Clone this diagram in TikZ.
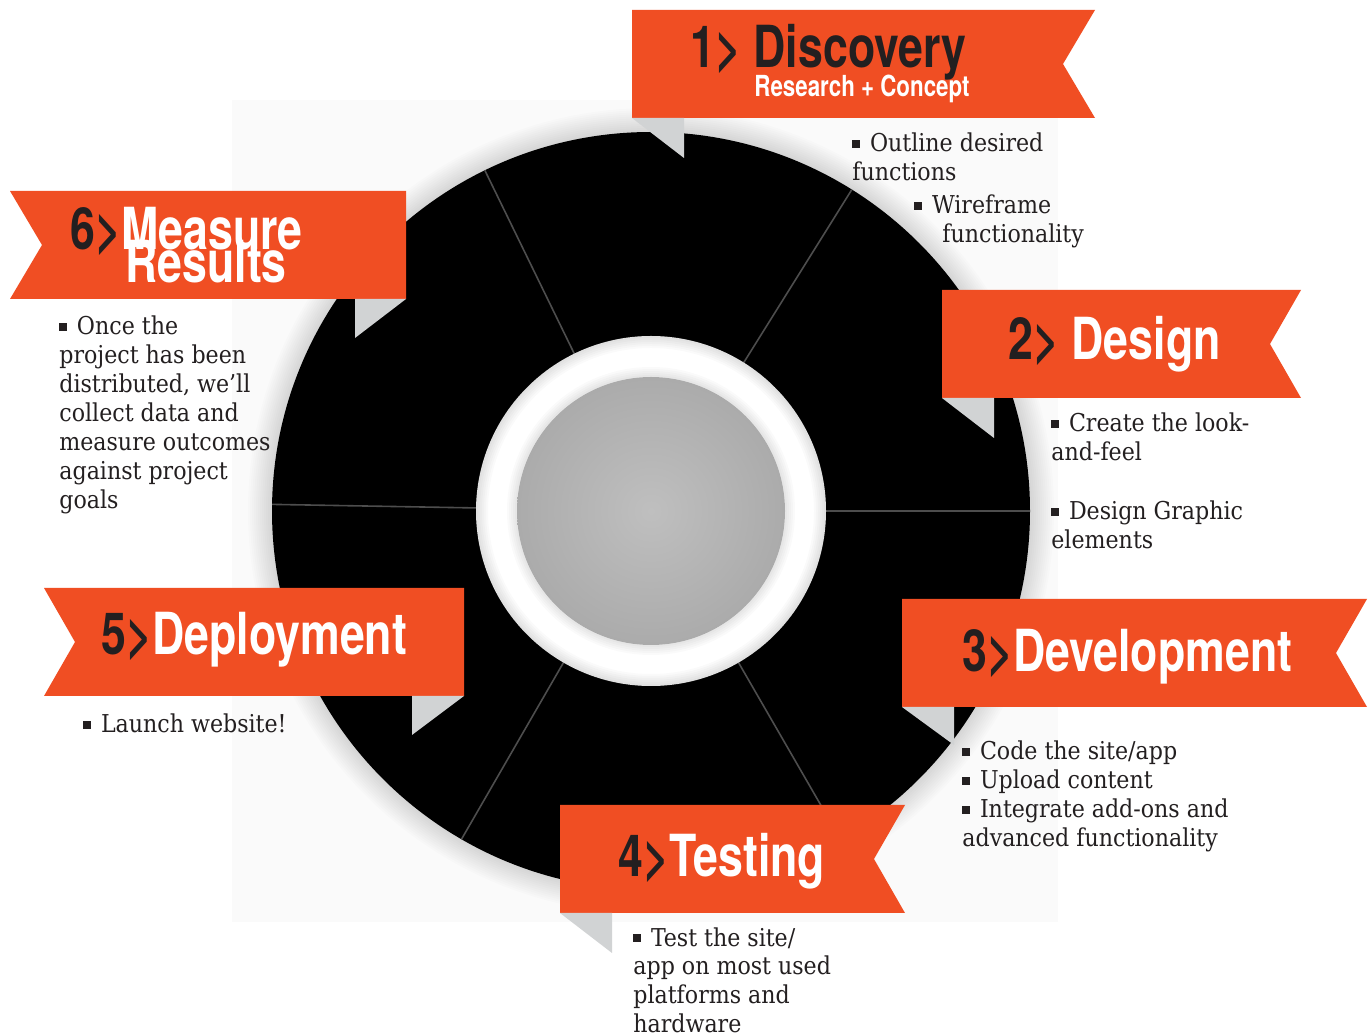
\documentclass[tikz,border=0pt]{standalone}
\usepackage{fontspec}
\setmainfont{DejaVu Serif Condensed}
\newfontfamily\bannerfont[FakeStretch=0.77]{TeX Gyre Heros}
\usetikzlibrary{positioning}

\definecolor{ribbonorange}{HTML}{F04E23}
\definecolor{ink}{HTML}{231F20}
\definecolor{foldgray}{HTML}{D1D3D4}
\definecolor{spokegray}{HTML}{4D4D4D}
\definecolor{diskhi}{HTML}{BFBFBF}
\definecolor{disklo}{HTML}{ABABAB}
\definecolor{paper}{HTML}{FAFAFA}

\newcommand{\sqbullet}{\rule[2.2pt]{3.8pt}{3.8pt}\hspace{5pt}}

\begin{document}
\begin{tikzpicture}[x=0.5pt, y=-0.5pt,
	ribbon/.style={fill=ribbonorange},
	fold/.style={fill=foldgray},
	spoke/.style={draw=spokegray, line width=0.8pt},
	title/.style={font=\bannerfont\bfseries\fontsize{29}{29}\selectfont,
		text=white, inner sep=0pt, anchor=base west},
	subtitle/.style={title, font=\bannerfont\bfseries\fontsize{14.5}{14.5}\selectfont},
	body/.style={font=\fontsize{12.3}{14.5}\selectfont, text=ink,
		inner sep=0pt, anchor=base west, align=left}]
	\useasboundingbox (0,0) rectangle (1372,1036);
	\fill[white] (0,0) rectangle (1372,1036);
	\fill[paper] (232,100) rectangle (1058,922);
	\coordinate (c) at (651,511);
	% soft halo, wheel, spokes
	\foreach \k in {1,...,12}
		\fill[black, opacity=0.012] (c) circle ({379+2*\k});
	\fill[black] (c) circle (379);
	\foreach \a in {0,-58,-116,-179,-240,-300}
		\draw[spoke] (c) -- ++(\a:379);
	\fill[white] (c) circle (175);
	\foreach \k in {1,...,6}
		\fill[black, opacity=0.02, even odd rule] (c) circle (175) (c) circle ({175-2*\k});
	\foreach \k in {1,...,5}
		\fill[black, opacity=0.02] (c) circle ({134+2*\k});
	\fill[white] (c) circle (134);
	\shade[inner color=diskhi, outer color=disklo] (c) circle (134);
	% ribbons with their folds
	\fill[ribbon] (632,10) -- (1095,10) -- (1063,64) -- (1095,118) -- (632,118) -- cycle;
	\fill[fold] (632,118) -- (684,118) -- (684,158) -- cycle;
	\fill[ribbon] (942,290) -- (1301,290) -- (1270,344) -- (1301,398) -- (942,398) -- cycle;
	\fill[fold] (942,398) -- (994,398) -- (994,438) -- cycle;
	\fill[ribbon] (902,599) -- (1367,599) -- (1336,653) -- (1367,707) -- (902,707) -- cycle;
	\fill[fold] (902,707) -- (954,707) -- (954,745) -- cycle;
	\fill[ribbon] (560,805) -- (905,805) -- (874,859) -- (905,913) -- (560,913) -- cycle;
	\fill[fold] (560,913) -- (612,913) -- (612,953) -- cycle;
	\fill[ribbon] (44,588) -- (464,588) -- (464,696) -- (44,696) -- (75,642) -- cycle;
	\fill[fold] (412,696) -- (464,696) -- (412,735) -- cycle;
	\fill[ribbon] (10,191) -- (406,191) -- (406,299) -- (10,299) -- (42,245) -- cycle;
	\fill[fold] (355,299) -- (406,299) -- (355,338) -- cycle;
	% titles
	\node[title, text=ink] (discovery) at (690,68) {1> Discovery};
	\node[subtitle] (research) at (754,97) {Research + Concept};
	\node[title] (design) at (1008,360) {\textcolor{ink}{2>} Design};
	\node[title] (develop) at (962,672) {\textcolor{ink}{3>}Development};
	\node[title] (testing) at (618,877) {\textcolor{ink}{4>}Testing};
	\node[title] (deploy) at (101,655) {\textcolor{ink}{5>}Deployment};
	\node[title] (measure) at (70,250) {\textcolor{ink}{6>}Measure};
	\node[title] (results) at (125,283) {Results};
	% notes under each ribbon (placed by their last baseline)
	\node[body] (outline) at (852,181) {\sqbullet Outline desired\\functions};
	\node[body] (wireframe) at (914,243) {\sqbullet Wireframe\\\hspace*{14pt}functionality};
	\node[body] (lookfeel) at (1051,461) {\sqbullet Create the look-\\and-feel};
	\node[body] (graphic) at (1051,549) {\sqbullet Design Graphic\\elements};
	\node[body] (code) at (962,847) {\sqbullet Code the site/app\\\sqbullet Upload content\\\sqbullet Integrate add-ons and\\advanced functionality};
	\node[body] (test) at (633,1033) {\sqbullet Test the site/\\app on most used\\platforms and\\hardware};
	\node[body] (launch) at (83,733) {\sqbullet Launch website!};
	\node[body] (collect) at (59,509) {\sqbullet Once the\\project has been\\distributed, we’ll\\collect data and\\measure outcomes\\against project\\goals};
\end{tikzpicture}
\end{document}
